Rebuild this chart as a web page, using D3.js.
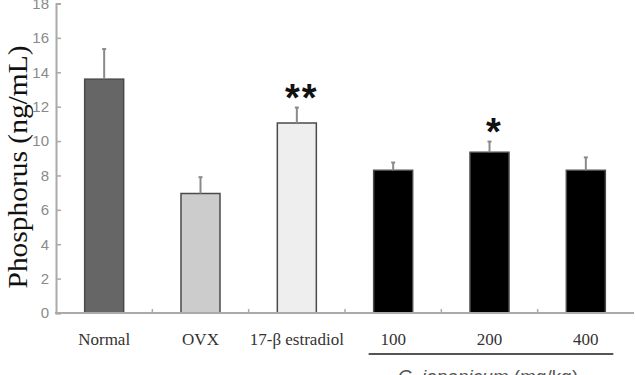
<!DOCTYPE html>
<html>
<head>
<meta charset="utf-8">
<script src="https://cdn.jsdelivr.net/npm/d3@7"></script>
<style>
  body { margin: 0; background: #fff; }
</style>
</head>
<body>
<script>
const width = 635;
const height = 375;

const categories = ['Normal', 'OVX', '17-β estradiol', '100', '200', '400'];
const means = [13.6, 6.95, 11.05, 8.3, 9.35, 8.3];
const errors = [1.75, 0.95, 0.9, 0.45, 0.62, 0.75];
const stars = ['', '', '**', '', '*', ''];
const fills = ['#666666', '#cccccc', '#eeeeee', '#000000', '#000000', '#000000'];
const yTicks = [0, 2, 4, 6, 8, 10, 12, 14, 16, 18];
const doseGroup = ['100', '200', '400'];

const svg = d3.select('body')
  .append('svg')
  .attr('width', width)
  .attr('height', height);

const x = d3.scaleBand()
  .domain(categories)
  .range([56, 634])
  .paddingInner(0.595)
  .paddingOuter(0.2975);

const y = d3.scaleLinear()
  .domain([0, 18])
  .range([313, 3.5]);

const axisColor = '#aaaaaa';

// y axis
const yAxis = svg.append('g')
  .attr('transform', 'translate(56,0)')
  .call(d3.axisRight(y).tickValues(yTicks).tickSize(5).tickFormat(''));
yAxis.select('.domain').attr('stroke', axisColor).attr('stroke-width', 2);
yAxis.selectAll('.tick line').attr('stroke', axisColor).attr('stroke-width', 1.5);

svg.append('g')
  .selectAll('text')
  .data(yTicks)
  .enter()
  .append('text')
  .attr('x', 49)
  .attr('y', d => y(d))
  .attr('dy', '0.36em')
  .attr('text-anchor', 'end')
  .attr('font-family', 'Liberation Sans, Arial, sans-serif')
  .attr('font-size', 15)
  .attr('fill', '#8a8a8a')
  .text(d => d);

// bars
const gBars = svg.append('g');
gBars.selectAll('rect')
  .data(categories)
  .enter()
  .append('rect')
  .attr('x', d => x(d))
  .attr('y', (d, i) => y(means[i]))
  .attr('width', x.bandwidth())
  .attr('height', (d, i) => y(0) - y(means[i]))
  .attr('fill', (d, i) => fills[i])
  .attr('stroke', '#4a4a4a')
  .attr('stroke-width', 1.5);

// error bars (upper only)
const gErr = svg.append('g')
  .attr('stroke', '#8a8a8a')
  .attr('stroke-width', 2);
categories.forEach((c, i) => {
  const cx = x(c) + x.bandwidth() / 2;
  gErr.append('line')
    .attr('x1', cx).attr('x2', cx)
    .attr('y1', y(means[i])).attr('y2', y(means[i] + errors[i]));
  gErr.append('line')
    .attr('x1', cx - 2).attr('x2', cx + 2)
    .attr('y1', y(means[i] + errors[i])).attr('y2', y(means[i] + errors[i]));
});

// significance marks
svg.append('g')
  .selectAll('text')
  .data(categories)
  .enter()
  .append('text')
  .attr('x', d => x(d) + x.bandwidth() / 2 + 5)
  .attr('y', (d, i) => y(means[i] + errors[i]) + 3)
  .attr('text-anchor', 'middle')
  .attr('font-family', 'Liberation Sans, Arial, sans-serif')
  .attr('font-weight', 'bold')
  .attr('font-size', 38)
  .attr('letter-spacing', 2)
  .attr('fill', '#111')
  .text((d, i) => stars[i]);

// x axis
svg.append('line')
  .attr('x1', 55).attr('x2', 634)
  .attr('y1', y(0)).attr('y2', y(0))
  .attr('stroke', axisColor)
  .attr('stroke-width', 2);

svg.append('g')
  .selectAll('line')
  .data(d3.range(1, categories.length))
  .enter()
  .append('line')
  .attr('x1', i => x.range()[0] + i * x.step())
  .attr('x2', i => x.range()[0] + i * x.step())
  .attr('y1', y(0))
  .attr('y2', y(0) - 4)
  .attr('stroke', axisColor)
  .attr('stroke-width', 1.5);

svg.append('g')
  .selectAll('text')
  .data(categories)
  .enter()
  .append('text')
  .attr('x', d => x(d) + x.bandwidth() / 2)
  .attr('y', 345)
  .attr('text-anchor', 'middle')
  .attr('font-family', 'Liberation Serif, Times New Roman, serif')
  .attr('font-size', 17)
  .attr('fill', '#333')
  .text(d => d);

// dose group bracket
const gx0 = x(doseGroup[0]) - 5;
const gx1 = x(doseGroup[doseGroup.length - 1]) + x.bandwidth() + 8;
svg.append('line')
  .attr('x1', gx0).attr('x2', gx1)
  .attr('y1', 354).attr('y2', 354)
  .attr('stroke', '#555')
  .attr('stroke-width', 2);

const gLabel = svg.append('text')
  .attr('x', 488)
  .attr('y', 383)
  .attr('text-anchor', 'middle')
  .attr('font-family', 'Liberation Sans, Arial, sans-serif')
  .attr('font-size', 19)
  .attr('fill', '#555');
gLabel.append('tspan').attr('font-style', 'italic').text('C. japonicum');
gLabel.append('tspan').text(' (mg/kg)');

// y label
svg.append('text')
  .attr('transform', 'translate(27,167) rotate(-90)')
  .attr('text-anchor', 'middle')
  .attr('font-family', 'Liberation Serif, Times New Roman, serif')
  .attr('font-size', 27)
  .attr('textLength', 243)
  .attr('lengthAdjust', 'spacingAndGlyphs')
  .attr('fill', '#111')
  .text('Phosphorus (ng/mL)');
</script>
</body>
</html>
